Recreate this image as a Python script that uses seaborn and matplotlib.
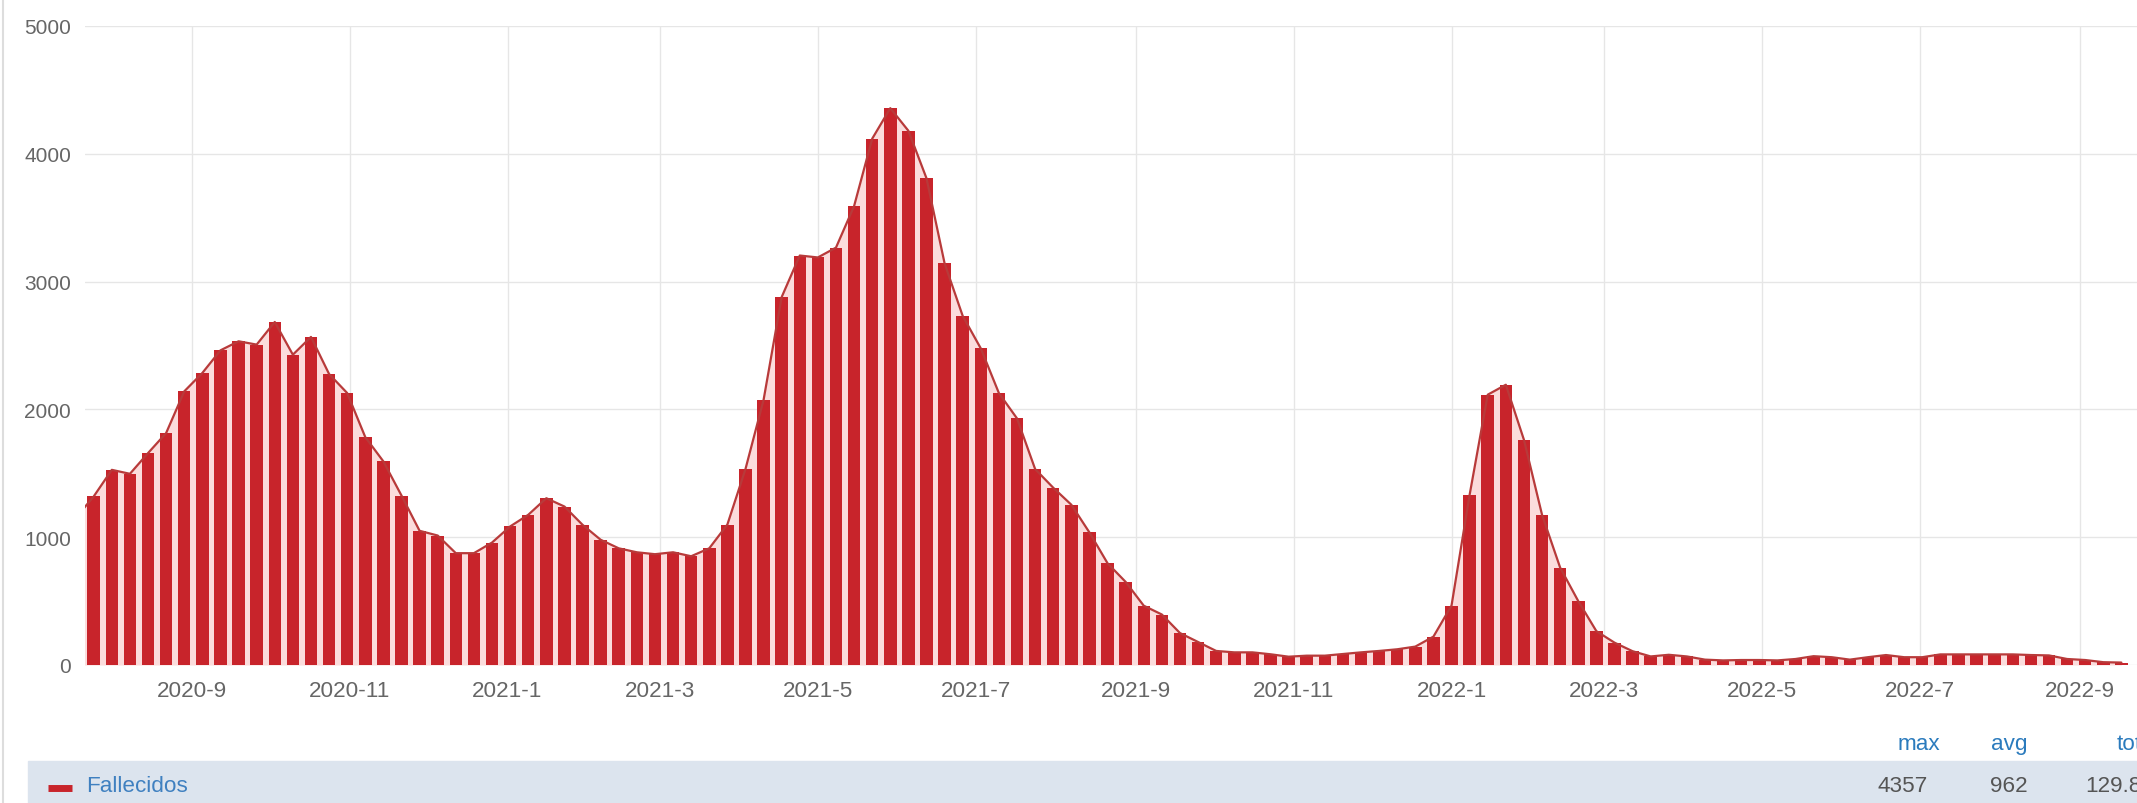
import numpy as np
import pandas as pd
import seaborn as sns
import matplotlib.pyplot as plt
import matplotlib.dates as mdates
from matplotlib.lines import Line2D
from matplotlib.patches import Rectangle

# Weekly deaths ("Fallecidos"), one value per week starting 2020-07-25
first_week = "2020-07-25"
fallecidos = [
    1319, 1527, 1496, 1658, 1815, 2141, 2285, 2462, 2533, 2507,
    2684, 2428, 2567, 2277, 2128, 1783, 1593, 1326, 1050, 1013,
    875, 875, 958, 1084, 1175, 1305, 1240, 1097, 980, 913,
    882, 867, 882, 851, 913, 1099, 1533, 2074, 2879, 3204,
    3189, 3266, 3591, 4118, 4357, 4180, 3808, 3142, 2731, 2477,
    2127, 1929, 1533, 1387, 1254, 1037, 796, 650, 464, 395,
    250, 180, 110, 99, 99, 84, 65, 73, 73, 86,
    99, 110, 123, 144, 222, 465, 1332, 2115, 2193, 1762,
    1175, 762, 500, 265, 175, 108, 67, 80, 67, 42,
    36, 39, 39, 36, 47, 69, 61, 42, 61, 78,
    61, 61, 83, 83, 83, 83, 83, 78, 75, 47,
    39, 22, 19,
]
# week before the first bar, only the line reaches it (cut by the left edge)
prev_week_value = 1150

tick_labels = ["2020-9", "2020-11", "2021-1", "2021-3", "2021-5", "2021-7",
               "2021-9", "2021-11", "2022-1", "2022-3", "2022-5", "2022-7", "2022-9"]
y_ticks = [0, 1000, 2000, 3000, 4000, 5000]

series_name = "Fallecidos"
stat_names = ["max", "avg", "total"]
stat_values = ["4357", "962", "129.846"]

bar_color = "#c8242b"
line_color = "#b83a3a"
fill_color = "#fbdcdc"
grid_color = "#e6e6e6"
text_gray = "#666666"
link_blue = "#3f80c0"

weeks = pd.date_range(first_week, periods=len(fallecidos), freq="7D")
x_bars = mdates.date2num(weeks)
x_line = np.concatenate([[x_bars[0] - 7], x_bars])
y_line = np.concatenate([[prev_week_value], fallecidos])

sns.set_style("white")
plt.rcParams["font.family"] = ["Liberation Sans", "DejaVu Sans"]

W, H = 2137, 804
fig = plt.figure(figsize=(W / 100, H / 100), dpi=100)
ax = fig.add_axes([85 / W, (H - 666) / H, (W - 85) / W, (666 - 27) / H])

ax.fill_between(x_line, y_line, 0, color=fill_color, linewidth=0, zorder=1)
sns.barplot(x=x_bars, y=fallecidos, native_scale=True, orient="x", width=0.69,
            color=bar_color, saturation=1, errorbar=None, linewidth=0,
            ax=ax, zorder=2)
sns.lineplot(x=x_line, y=y_line, color=line_color, linewidth=1.6, ax=ax, zorder=3)

# x scale: 2020-09-01 sits at px 192, 2.5863 px per day
sep1 = mdates.date2num(pd.Timestamp("2020-09-01"))
ax.set_xlim(sep1 + (85 - 192) / 2.5863, sep1 + (W - 192) / 2.5863)
ax.set_ylim(0, 5000)

tick_pos = mdates.date2num(pd.to_datetime([t + "-1" for t in tick_labels]))
ax.set_xticks(tick_pos)
ax.set_xticklabels(tick_labels)
ax.set_yticks(y_ticks)
ax.set_yticklabels([str(v) for v in y_ticks])
ax.tick_params(axis="both", length=0, labelcolor=text_gray)
ax.tick_params(axis="x", pad=11, labelsize=16.2)
ax.tick_params(axis="y", pad=10, labelsize=15)

ax.grid(True, color=grid_color, linewidth=1)
ax.set_axisbelow(True)
for s in ax.spines.values():
    s.set_visible(False)
ax.set_xlabel("")
ax.set_ylabel("")
if ax.get_legend() is not None:
    ax.get_legend().remove()

# footer with legend row and stats
foot = fig.add_axes([0, 0, 1, 80 / H])
foot.set_xlim(0, W)
foot.set_ylim(H, H - 80)
foot.axis("off")
foot.add_patch(Rectangle((28, 762), W - 28, 60, color="#dce4ee", zorder=0))
foot.plot([48, 72], [789, 789], color=bar_color, linewidth=5, solid_capstyle="butt")
foot.text(86, 787, series_name, color=link_blue, fontsize=16.2, va="center")
name_x = [1919, 2009, 2117]
value_x = [1903, 2009, 2085]
for i, (name, val) in enumerate(zip(stat_names, stat_values)):
    ha = "center" if i < 2 else "left"
    foot.text(name_x[i], 745, name, color="#2b7bbd", fontsize=16.2,
              ha=ha, va="center", clip_on=True)
    foot.text(value_x[i], 787, val, color="#555555", fontsize=16.2,
              ha=ha, va="center", clip_on=True)

# left border of the container
fig.add_artist(Line2D([3 / W, 3 / W], [0, 1], color="#dddddd", linewidth=1.5))

fig.savefig("out.png", dpi=100)
